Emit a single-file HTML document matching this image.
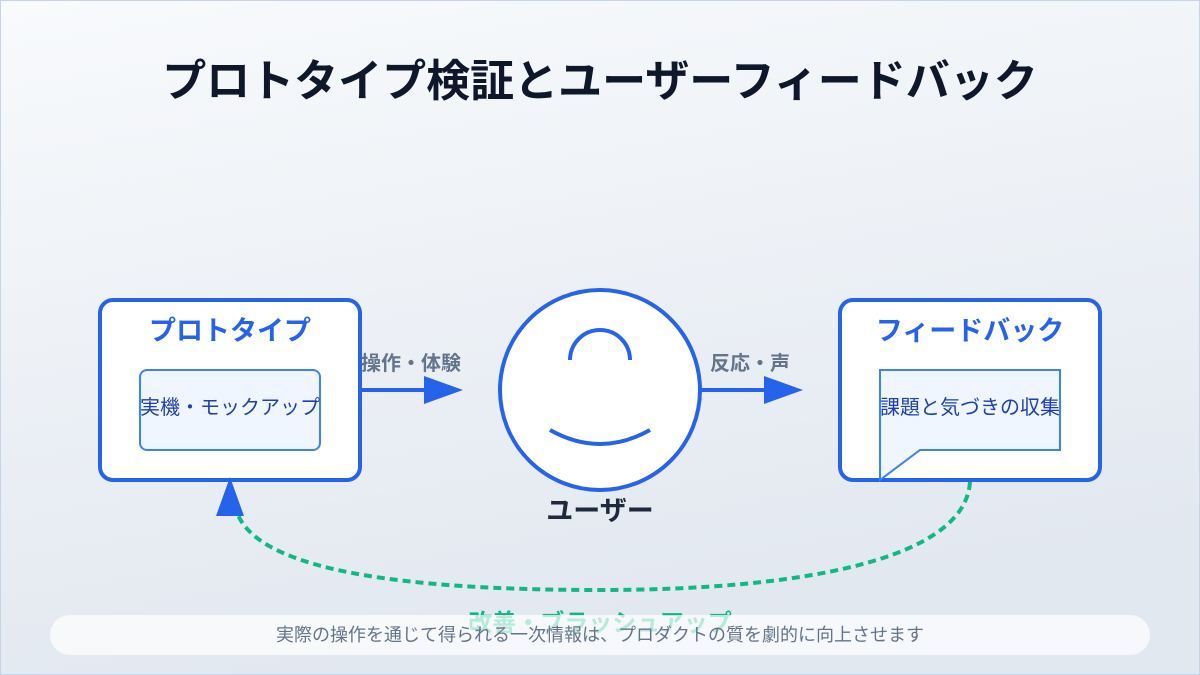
<!DOCTYPE html>
<html><head><meta charset="utf-8"><style>
html,body{margin:0;padding:0;width:1200px;height:675px;overflow:hidden}
svg{display:block}
text{font-family:"Liberation Sans","Noto Sans CJK JP",sans-serif}
</style></head><body>
<svg width="1200" height="675" viewBox="0 0 1200 675" xmlns="http://www.w3.org/2000/svg">
<defs><linearGradient id="bg" x1="0" y1="0" x2="0.3" y2="1"><stop offset="0" stop-color="#f8fafc"/><stop offset="1" stop-color="#e2e8f0"/></linearGradient></defs>
<rect x="0.5" y="0.5" width="1199" height="674" fill="url(#bg)" stroke="#c6d4e6"/>
<text x="600" y="96" text-anchor="middle" font-size="44" font-weight="bold" fill="#0f172a">プロトタイプ検証とユーザーフィードバック</text>
<!-- left box -->
<rect x="100" y="300" width="260" height="180" rx="13" fill="#fff" stroke="#2563eb" stroke-width="4"/>
<text x="230" y="340" text-anchor="middle" font-size="27" font-weight="bold" fill="#2563eb">プロトタイプ</text>
<rect x="140" y="370" width="180" height="80" rx="7" fill="#eff6ff" stroke="#3b82f6" stroke-width="2"/>
<text x="230" y="414" text-anchor="middle" font-size="20" fill="#1e40af">実機・モックアップ</text>
<!-- arrow 1 -->
<line x1="360" y1="390" x2="430" y2="390" stroke="#2563eb" stroke-width="4"/>
<polygon points="424,376 463,390 424,404" fill="#2563eb"/>
<text x="411" y="370" text-anchor="middle" font-size="20" font-weight="bold" fill="#64748b">操作・体験</text>
<!-- user -->
<circle cx="600" cy="390" r="100" fill="#fff" stroke="#2563eb" stroke-width="4"/>
<path d="M570,360 A30,30 0 0 1 630,360" fill="none" stroke="#2563eb" stroke-width="4"/>
<path d="M550,430 Q600,458 650,430" fill="none" stroke="#2563eb" stroke-width="4"/>
<text x="600" y="520" text-anchor="middle" font-size="27" font-weight="bold" fill="#1e293b">ユーザー</text>
<!-- arrow 2 -->
<line x1="700" y1="390" x2="770" y2="390" stroke="#2563eb" stroke-width="4"/>
<polygon points="764,376 803,390 764,404" fill="#2563eb"/>
<text x="750" y="370" text-anchor="middle" font-size="20" font-weight="bold" fill="#64748b">反応・声</text>
<!-- right box -->
<rect x="840" y="300" width="260" height="180" rx="13" fill="#fff" stroke="#2563eb" stroke-width="4"/>
<text x="970" y="340" text-anchor="middle" font-size="27" font-weight="bold" fill="#2563eb">フィードバック</text>
<path d="M880,370 H1060 V450 H920 L880,480 Z" fill="#eff6ff" stroke="#3b82f6" stroke-width="2"/>
<text x="970" y="414" text-anchor="middle" font-size="20" fill="#1e40af">課題と気づきの収集</text>
<!-- loop -->
<path d="M970,482 C965,560 800,590 600,590 C400,590 262,570 238,515" fill="none" stroke="#10b981" stroke-width="4" stroke-dasharray="8,5"/>
<polygon points="230,477 244,516 216,516" fill="#2563eb"/>
<text x="600" y="631" text-anchor="middle" font-size="24" font-weight="bold" fill="#10b981">改善・ブラッシュアップ</text>
<rect x="50" y="615" width="1100" height="40" rx="20" fill="#ffffff" fill-opacity="0.7"/>
<text x="600" y="641" text-anchor="middle" font-size="18" fill="#64748b">実際の操作を通じて得られる一次情報は、プロダクトの質を劇的に向上させます</text>
</svg>
</body></html>
